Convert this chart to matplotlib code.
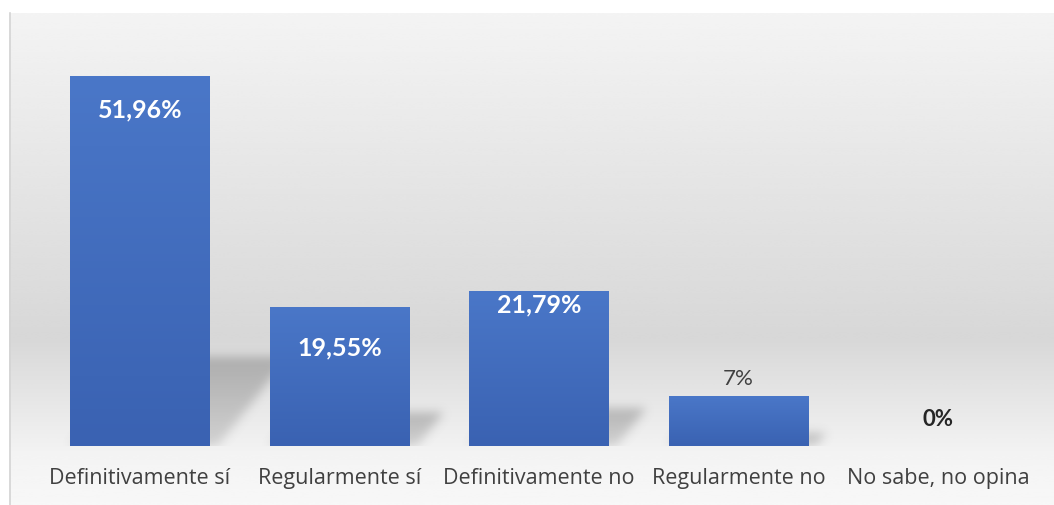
import matplotlib
matplotlib.use("Agg")
import matplotlib.pyplot as plt
import numpy as np
from matplotlib.colors import LinearSegmentedColormap

categorias = ["Definitivamente sí", "Regularmente sí", "Definitivamente no",
              "Regularmente no", "No sabe, no opina"]
valores = [51.96, 19.55, 21.79, 7.0, 0.0]
etiquetas = ["51,96%", "19,55%", "21,79%", "7%", "0%"]

# estilo de las etiquetas (desplazamiento en px respecto al tope de la barra)
desplaz_px = [-33, -40, -13, 18, 27]
dentro = [True, True, True, False, False]

W, H, DPI = 1054, 506, 100
fig = plt.figure(figsize=(W / DPI, H / DPI), dpi=DPI)
fig.patch.set_facecolor("white")

# fondo con degradado
bg = fig.add_axes([9 / W, 0, 1 - 9 / W, 1 - 14 / H])
bg.set_axis_off()
ys = np.linspace(0, 1, 300)
stops_y = [0.0, 0.66, 0.9, 1.0]
stops_v = [0.955, 0.845, 0.955, 0.97]
vals = np.interp(ys, stops_y, stops_v)
grad = np.repeat(vals[:, None], 2, axis=1)
bg.imshow(grad, cmap="gray", vmin=0, vmax=1, aspect="auto",
          extent=[0, 1, 1, 0], interpolation="bicubic")
bg.set_xlim(0, 1)
bg.set_ylim(1, 0)
fig.add_artist(plt.Line2D([9.5 / W, 9.5 / W], [0, 1 - 14 / H],
                          color="#d4d4d4", lw=1.2))

base = 447
ax = fig.add_axes([40 / W, (H - base) / H, 998 / W, (base - 20) / H])
ax.patch.set_alpha(0)
for s in ax.spines.values():
    s.set_visible(False)
ax.set_yticks([])

x = np.arange(len(categorias))
ancho = 0.70


def suavizar(a, n):
    k = np.exp(-0.5 * (np.arange(-3 * n, 3 * n + 1) / n) ** 2)
    k /= k.sum()
    a = np.apply_along_axis(lambda r: np.convolve(r, k, mode="same"), 1, a)
    a = np.apply_along_axis(lambda c: np.convolve(c, k, mode="same"), 0, a)
    return a


# sombras difusas (mascara borrosa)
gx = np.linspace(-0.5, 4.5, 1000)
gy = np.linspace(0, 60, 430)
XX, YY = np.meshgrid(gx, gy)
mask = np.zeros_like(XX)
for xi, h in zip(x, valores):
    if h <= 0:
        continue
    xl, xr = xi - ancho / 2, xi + ancho / 2
    top = 0.24 * h
    desp = 0.0068 * h
    t = np.clip(YY / top, 0, 1)
    dentro_sombra = (YY <= top) & (XX >= xl + desp * t) & (XX <= xr + 0.04 + desp * t)
    mask[dentro_sombra] = np.maximum(mask[dentro_sombra], 1 - 0.45 * (1 - t[dentro_sombra]))
mask = suavizar(mask, 5)
rgba = np.zeros(mask.shape + (4,))
rgba[..., :3] = 0.42
rgba[..., 3] = mask * 0.42
ax.imshow(rgba, extent=[-0.5, 4.5, 0, 60], origin="lower", aspect="auto",
          zorder=1, interpolation="bilinear")

barras = ax.bar(x, valores, width=ancho, color="#4472c4", zorder=2,
                edgecolor="none")

cmap_barra = LinearSegmentedColormap.from_list("b", ["#3a62b2", "#4a77c8"])
gbar = np.linspace(0, 1, 100)[:, None]
for b in barras:
    if b.get_height() <= 0:
        continue
    x0, w, h = b.get_x(), b.get_width(), b.get_height()
    im = ax.imshow(gbar, cmap=cmap_barra, aspect="auto", origin="lower",
                   extent=[x0, x0 + w, 0, h], zorder=3)
    im.set_clip_path(b)
ax.set_xlim(-0.5, 4.5)
ax.set_ylim(0, 60)

for xi, h, txt, dpx, inn in zip(x, valores, etiquetas, desplaz_px, dentro):
    if inn:
        ax.annotate(txt, (xi, h), xytext=(0, dpx * 0.72), textcoords="offset points",
                    ha="center", va="center", color="white", fontsize=18,
                    fontweight="bold", family="Lato", zorder=5)
    else:
        peso = "bold" if h == 0 else "normal"
        col = "#262626" if h == 0 else "#404040"
        ax.annotate(txt, (xi, h), xytext=(0, dpx * 0.72), textcoords="offset points",
                    ha="center", va="center", color=col, fontsize=16,
                    fontweight=peso, family="Lato", zorder=5)

ax.set_xticks(x)
ax.set_xticklabels(categorias, fontsize=15.5, color="#404040", family="Open Sans")
ax.tick_params(axis="x", length=0, pad=15)

fig.savefig("out.png", dpi=DPI)
